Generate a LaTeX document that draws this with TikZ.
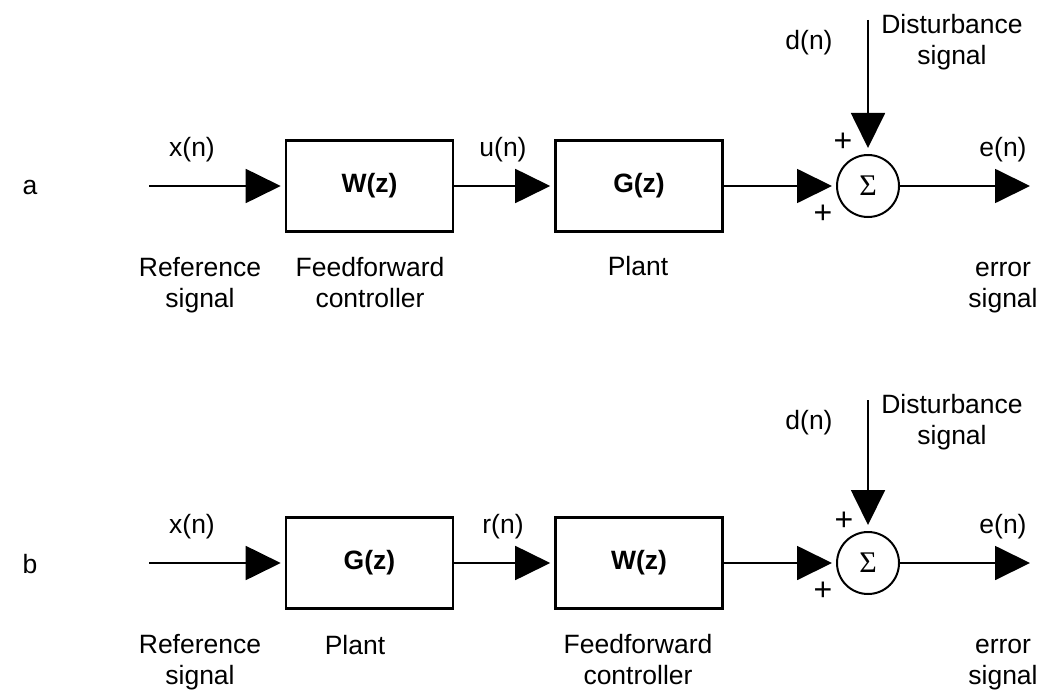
\documentclass[tikz,border=0pt]{standalone}
\usepackage{fontspec}
\setmainfont{Liberation Sans}
\newfontfamily\sigmafont{Liberation Serif}
\usetikzlibrary{arrows.meta}
\newcommand{\sumsym}{{\sigmafont\fontsize{30}{32}\selectfont Σ}}
\begin{document}
\begin{tikzpicture}[x=1pt,y=-1pt,
  every node/.style={font=\fontsize{26.5}{32}\selectfont, inner sep=0pt},
  blk/.style={draw, line width=2.6pt, minimum width=167pt, minimum height=91pt, font=\fontsize{26.5}{32}\selectfont\bfseries},
  sumnode/.style={draw, circle, line width=2pt, minimum size=62pt},
  sig/.style={line width=1.8pt, -{Triangle[length=35pt,width=34pt]}, shorten >=4pt},
  pl/.style={font=\fontsize{32}{36}\selectfont},
  lbl/.style={align=center, anchor=base, font=\fontsize{26.5}{31}\selectfont}]
\useasboundingbox (0,0) rectangle (1048,690);
% ---------- row a ----------
\node (la) at (30,187) {a};
\coordinate (ain) at (149,186);
\node[blk] (aW) at (369.5,186) {W(z)};
\node[blk] (aG) at (639,186) {G(z)};
\node[sumnode] (aS) at (868,186) {\sumsym};
\coordinate (aout) at (1030,186);
\coordinate (adtop) at (868,20);
\draw[sig] (ain) -- (aW.west);
\draw[sig] (aW.east) -- (aG.west);
\draw[sig] (aG.east) -- (aS.west);
\draw[sig, shorten >=0pt] (aS.east) -- (aout);
\draw[sig, shorten >=6pt] (adtop) -- (aS.north);
\node (ax) at (192,150) {x(n)};
\node (au) at (503,150) {u(n)};
\node (ae) at (1003,150) {e(n)};
\node (ad) at (809,43) {d(n)};
\node[lbl, anchor=center] (adist) at (952,42) {Disturbance\\signal};
\node[pl] (ap1) at (843,142) {+};
\node[pl] (ap2) at (823,214) {+};
\node[lbl] (aref) at (200,307) {Reference\\signal};
\node[lbl] (aff) at (370,307) {Feedforward\\controller};
\node[lbl] (aplant) at (638,275) {Plant};
\node[lbl] (aerr) at (1003,307) {error\\signal};
% ---------- row b ----------
\node (lb) at (30,564) {b};
\coordinate (bin) at (149,563);
\node[blk] (bG) at (369.5,563) {G(z)};
\node[blk] (bW) at (639,563) {W(z)};
\node[sumnode] (bS) at (868,563) {\sumsym};
\coordinate (bout) at (1030,563);
\coordinate (bdtop) at (868,400);
\draw[sig] (bin) -- (bG.west);
\draw[sig] (bG.east) -- (bW.west);
\draw[sig] (bW.east) -- (bS.west);
\draw[sig, shorten >=0pt] (bS.east) -- (bout);
\draw[sig, shorten >=6pt] (bdtop) -- (bS.north);
\node (bx) at (192,527) {x(n)};
\node (br) at (503,527) {r(n)};
\node (be) at (1003,527) {e(n)};
\node (bd) at (809,423) {d(n)};
\node[lbl, anchor=center] (bdist) at (952,422) {Disturbance\\signal};
\node[pl] (bp1) at (844,521) {+};
\node[pl] (bp2) at (823,591) {+};
\node[lbl] (bref) at (200,684) {Reference\\signal};
\node[lbl] (bplant) at (355,654) {Plant};
\node[lbl] (bff) at (638,684) {Feedforward\\controller};
\node[lbl] (berr) at (1003,684) {error\\signal};
\end{tikzpicture}
\end{document}
